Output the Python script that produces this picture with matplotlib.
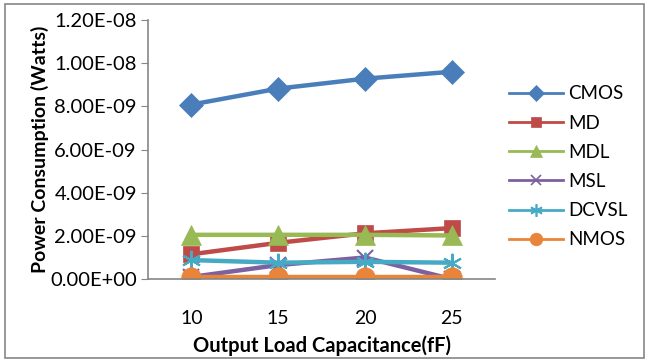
import matplotlib.pyplot as plt
from matplotlib.lines import Line2D
from matplotlib.patches import Rectangle

# Load capacitance (fF) and power consumption per logic style (W)
loads = ['10', '15', '20', '25']
cmos = [8.08e-9, 8.82e-9, 9.28e-9, 9.60e-9]
md = [1.15e-9, 1.68e-9, 2.12e-9, 2.36e-9]
mdl = [2.05e-9, 2.05e-9, 2.05e-9, 2.02e-9]
msl = [0.10e-9, 0.65e-9, 1.00e-9, 0.0]
dcvsl = [0.88e-9, 0.76e-9, 0.80e-9, 0.76e-9]
nmos = [0.10e-9, 0.10e-9, 0.10e-9, 0.10e-9]

series = [
    ('CMOS', cmos, '#4A7EBB', 'D', 12),
    ('MD', md, '#BE4B48', 's', 12),
    ('MDL', mdl, '#98B954', '^', 14),
    ('MSL', msl, '#7D60A0', 'x', 11),
    ('DCVSL', dcvsl, '#46AAC5', (6, 2, 0), 14),
    ('NMOS', nmos, '#E8853A', 'o', 14),
]

plt.rcParams['font.family'] = ['Lato', 'DejaVu Sans']

fig = plt.figure(figsize=(6.49, 3.62), dpi=100)
ax = fig.add_axes([0.228, 0.229, 0.535, 0.716])

x = range(len(loads))
handles = []
for name, vals, color, marker, ms in series:
    thin = marker in ('x', (6, 2, 0))
    ax.plot(x, vals, color=color, lw=3.2, marker=marker, markersize=ms,
            markeredgewidth=1.5 if thin else 0.5,
            markeredgecolor=color, markerfacecolor=color, solid_capstyle='butt')
    handles.append(Line2D([], [], color=color, lw=2, marker=marker,
                          markersize=ms * 0.65, markeredgecolor=color,
                          markerfacecolor=color,
                          markeredgewidth=1.2 if thin else 0.5))

ax.set_xlim(-0.5, 3.5)
ax.set_ylim(0, 1.2e-8)
ax.set_xticks(list(x))
ax.set_xticklabels(loads)
ax.set_yticks([i * 2e-9 for i in range(7)])
ax.set_yticklabels(['0.00E+00', '2.00E-09', '4.00E-09', '6.00E-09',
                    '8.00E-09', '1.00E-08', '1.20E-08'])
ax.tick_params(axis='y', direction='out', length=5, color='#868686',
               labelsize=14.5, pad=3)
ax.tick_params(axis='x', length=0, labelsize=14, pad=22)

for side in ('top', 'right'):
    ax.spines[side].set_visible(False)
for side in ('left', 'bottom'):
    ax.spines[side].set_color('#868686')
    ax.spines[side].set_linewidth(1.2)

ax.set_xlabel('Output Load Capacitance(fF)', fontsize=14.5, fontweight='bold',
              labelpad=6)
ax.set_ylabel('Power Consumption (Watts)', fontsize=14, fontweight='bold',
              labelpad=1)

ax.legend(handles, [s[0] for s in series], loc='upper left',
          bbox_to_anchor=(0.772, 0.785), bbox_transform=fig.transFigure,
          frameon=False, fontsize=13.5, handlelength=2.9, handletextpad=0.3,
          labelspacing=0.65, borderaxespad=0)

# chart border
fig.patches.append(Rectangle((0.008, 0.01), 0.985, 0.98, transform=fig.transFigure,
                             fill=False, edgecolor='#868686', lw=1.2))

fig.savefig('out.png', dpi=100)
